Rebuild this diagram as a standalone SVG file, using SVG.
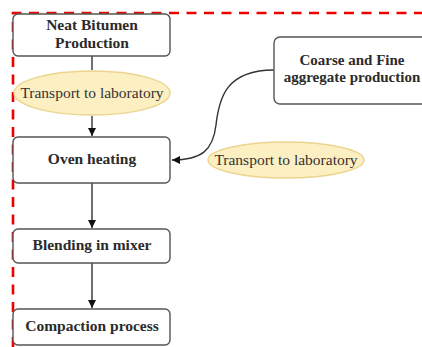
<svg xmlns="http://www.w3.org/2000/svg" width="422" height="347" viewBox="0 0 422 347">
<defs>
<style>
.box{fill:#fff;stroke:#555;stroke-width:1.4}
.ell{fill:#fcefc2;stroke:#ecd48e;stroke-width:1.4}
.bt{font-family:'Liberation Serif','Times New Roman',serif;font-weight:bold;font-size:15.5px;fill:#2b2b2b;text-anchor:middle}
.et{font-family:'Liberation Serif','Times New Roman',serif;font-size:15.5px;fill:#333;text-anchor:middle}
.con{fill:none;stroke:#333;stroke-width:1.4}
</style>
<marker id="ah" markerWidth="10" markerHeight="10" refX="9" refY="5" orient="auto" markerUnits="userSpaceOnUse">
<path d="M1,1 L9,5 L1,9 Z" fill="#111"/>
</marker>
</defs>
<rect width="422" height="347" fill="#fff"/>
<path d="M13,347 V13 H422" fill="none" stroke="#ee0000" stroke-width="2.6" stroke-dasharray="10 7.5"/>
<g id="connectors">
<path class="con" d="M92,56 V70"/>
<path class="con" d="M92,116 V136" marker-end="url(#ah)"/>
<path class="con" d="M92,183 V228" marker-end="url(#ah)"/>
<path class="con" d="M92,263 V308" marker-end="url(#ah)"/>
<path class="con" d="M274,70 C226,70 219,98 216,125 C213,150 202,160 172,160" marker-end="url(#ah)"/>
</g>
<g id="neat-bitumen">
<rect class="box" x="13" y="14" width="157" height="42" rx="5"/>
<text class="bt" x="92" y="30" font-family="Liberation Serif, serif">Neat Bitumen</text>
<text class="bt" x="92" y="48" font-family="Liberation Serif, serif">Production</text>
</g>
<g id="transport1">
<ellipse class="ell" cx="92" cy="93" rx="78" ry="22"/>
<text class="et" x="92" y="98" font-family="Liberation Serif, serif">Transport to laboratory</text>
</g>
<g id="oven-heating">
<rect class="box" x="13" y="137" width="157" height="46" rx="5"/>
<text class="bt" x="92" y="164" font-family="Liberation Serif, serif">Oven heating</text>
</g>
<g id="blending">
<rect class="box" x="13" y="229" width="157" height="34" rx="5"/>
<text class="bt" x="92" y="250" font-family="Liberation Serif, serif">Blending in mixer</text>
</g>
<g id="compaction">
<rect class="box" x="13" y="309" width="157" height="36" rx="5"/>
<text class="bt" x="92" y="331" font-family="Liberation Serif, serif">Compaction process</text>
</g>
<g id="coarse-fine">
<rect class="box" x="274" y="37" width="160" height="67" rx="6"/>
<text class="bt" x="352" y="65" font-family="Liberation Serif, serif" style="font-size:15px">Coarse and Fine</text>
<text class="bt" x="352" y="82" font-family="Liberation Serif, serif" style="font-size:15px">aggregate production</text>
</g>
<g id="transport2">
<ellipse class="ell" cx="286" cy="160" rx="78" ry="18"/>
<text class="et" x="286" y="165" font-family="Liberation Serif, serif">Transport to laboratory</text>
</g>
</svg>
